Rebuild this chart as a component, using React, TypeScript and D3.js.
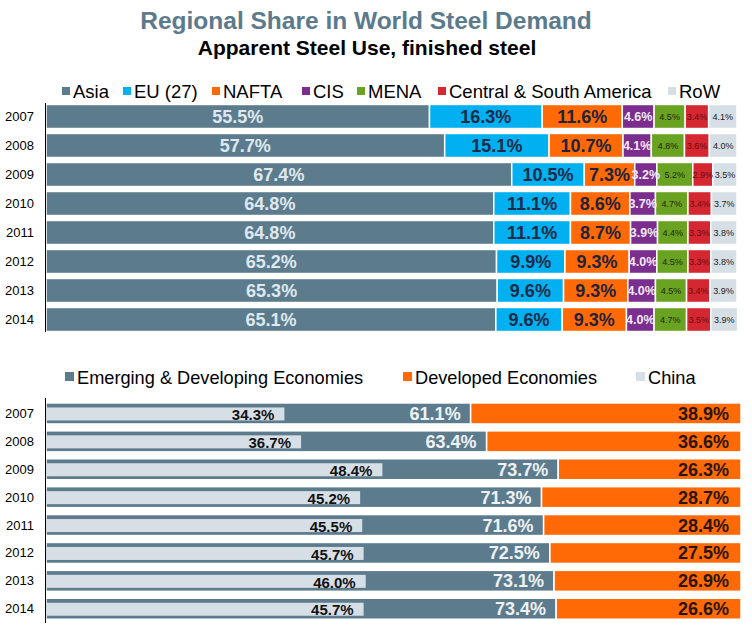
import React from "react";
import * as d3 from "d3";

const years = ["2007", "2008", "2009", "2010", "2011", "2012", "2013", "2014"];

const regions = ["Asia", "EU (27)", "NAFTA", "CIS", "MENA", "Central & South America", "RoW"];
const asia = [55.5, 57.7, 67.4, 64.8, 64.8, 65.2, 65.3, 65.1];
const eu = [16.3, 15.1, 10.5, 11.1, 11.1, 9.9, 9.6, 9.6];
const nafta = [11.6, 10.7, 7.3, 8.6, 8.7, 9.3, 9.3, 9.3];
const cis = [4.6, 4.1, 3.2, 3.7, 3.9, 4.0, 4.0, 4.0];
const mena = [4.5, 4.8, 5.2, 4.7, 4.4, 4.5, 4.5, 4.7];
const csa = [3.4, 3.6, 2.9, 3.4, 3.3, 3.3, 3.4, 3.5];
const row = [4.1, 4.0, 3.5, 3.7, 3.8, 3.8, 3.9, 3.9];

const economies = ["Emerging & Developing Economies", "Developed Economies", "China"];
const emerging = [61.1, 63.4, 73.7, 71.3, 71.6, 72.5, 73.1, 73.4];
const developed = [38.9, 36.6, 26.3, 28.7, 28.4, 27.5, 26.9, 26.6];
const china = [34.3, 36.7, 48.4, 45.2, 45.5, 45.7, 46.0, 45.7];

const FONT = "'Liberation Sans', Arial, sans-serif";

const regionColors = ["#5c7c8e", "#00b0f0", "#ff6a06", "#7c2e8e", "#6aa221", "#d42731", "#d7dfe6"];
const regionLabelStyle = [
  { size: 18, weight: "bold", fill: "#dfe8ef" },
  { size: 18, weight: "bold", fill: "#1d2b47" },
  { size: 18, weight: "bold", fill: "#22233a" },
  { size: 12.5, weight: "bold", fill: "#f2eaf6" },
  { size: 9, weight: "normal", fill: "#1a260c" },
  { size: 9, weight: "normal", fill: "#6e0a0a" },
  { size: 9, weight: "normal", fill: "#1a1a1a" },
];
const regionSeries = [asia, eu, nafta, cis, mena, csa, row];

const econColors = ["#5c7c8e", "#ff6a06", "#d7dfe6"];

export default function App() {
  const W = 752;
  const H = 631;

  // top chart
  const xTop = d3.scaleLinear().domain([0, 100]).range([46, 737]);
  const yTop = d3.scaleBand<string>().domain(years).range([102, 334]).paddingInner(0.17).paddingOuter(0.085);

  // bottom chart
  const xBot = d3.scaleLinear().domain([0, 100]).range([46, 741]);
  const yBot = d3.scaleBand<string>().domain(years).range([399.5, 622.7]).paddingInner(0.247).paddingOuter(0.124);

  const stacked = years.map((y, i) => {
    let acc = 0;
    return regionSeries.map((s, k) => {
      const v = s[i];
      const seg = { k, x0: acc, x1: acc + v, v };
      acc += v;
      return seg;
    });
  });

  const topLegendX = [62, 123, 212, 302, 357, 438, 668];
  const botLegendX = [65, 403, 636];

  return (
    <svg width={W} height={H} style={{ display: "block", position: "absolute", left: 0, top: 0 }} fontFamily={FONT}>
      <rect x={0} y={0} width={W} height={H} fill="#ffffff" />
      <text x={366} y={29} textAnchor="middle" fontSize={24.5} fontWeight="bold" fill="#5b7a8c">
        Regional Share in World Steel Demand
      </text>
      <text x={367} y={55} textAnchor="middle" fontSize={21} fontWeight="bold" fill="#000">
        Apparent Steel Use, finished steel
      </text>

      {/* top legend */}
      {regions.map((r, k) => (
        <g key={r}>
          <rect x={topLegendX[k]} y={87} width={8} height={8} fill={regionColors[k]} />
          <text x={topLegendX[k] + 11} y={98} fontSize={18.5} fill="#000">{r}</text>
        </g>
      ))}

      {/* top bars */}
      {years.map((yr, i) => (
        <g key={yr}>
          <text x={34} y={(yTop(yr) as number) + yTop.bandwidth() / 2} dy="0.35em" textAnchor="end" fontSize={13} fill="#000">
            {yr}
          </text>
          {stacked[i].map((s) => (
            <rect
              key={s.k}
              x={xTop(s.x0)}
              y={yTop(yr)}
              width={xTop(s.x1) - xTop(s.x0)}
              height={yTop.bandwidth()}
              fill={regionColors[s.k]}
              stroke="#ffffff"
              strokeWidth={1.5}
            />
          ))}
          {stacked[i].map((s) => {
            const st = regionLabelStyle[s.k];
            return (
              <text
                key={"l" + s.k}
                x={(xTop(s.x0) + xTop(s.x1)) / 2}
                y={(yTop(yr) as number) + yTop.bandwidth() / 2}
                dy="0.36em"
                textAnchor="middle"
                fontSize={st.size}
                fontWeight={st.weight}
                fill={st.fill}
              >
                {s.v.toFixed(1)}%
              </text>
            );
          })}
        </g>
      ))}
      <line x1={45.5} x2={45.5} y1={103} y2={332} stroke="#000" strokeWidth={1} />

      {/* bottom legend */}
      {economies.map((e, k) => (
        <g key={e}>
          <rect x={botLegendX[k]} y={372} width={9} height={9} fill={econColors[k]} />
          <text x={botLegendX[k] + 12} y={384} fontSize={18.2} fill="#000">{e}</text>
        </g>
      ))}

      {/* bottom bars */}
      {years.map((yr, i) => {
        const y0 = yBot(yr) as number;
        const bw = yBot.bandwidth();
        const cy = y0 + bw / 2;
        return (
          <g key={"b" + yr}>
            <text x={34} y={cy} dy="0.35em" textAnchor="end" fontSize={13} fill="#000">{yr}</text>
            <rect x={xBot(0)} y={y0} width={xBot(emerging[i]) - xBot(0)} height={bw} fill={econColors[0]} stroke="#fff" strokeWidth={1.5} />
            <rect x={xBot(emerging[i])} y={y0} width={xBot(emerging[i] + developed[i]) - xBot(emerging[i])} height={bw} fill={econColors[1]} stroke="#fff" strokeWidth={1.5} />
            <rect x={xBot(0)} y={cy - 6} width={xBot(china[i]) - xBot(0)} height={13} fill={econColors[2]} />
            <text x={xBot(china[i]) - 10} y={cy + 1} dy="0.38em" textAnchor="end" fontSize={15} fontWeight="bold" fill="#111">
              {china[i].toFixed(1)}%
            </text>
            <text x={xBot(emerging[i]) - 10} y={cy} dy="0.36em" textAnchor="end" fontSize={18} fontWeight="bold" fill="#eef2f5">
              {emerging[i].toFixed(1)}%
            </text>
            <text x={xBot(100) - 12} y={cy} dy="0.36em" textAnchor="end" fontSize={18} fontWeight="bold" fill="#2a1508">
              {developed[i].toFixed(1)}%
            </text>
          </g>
        );
      })}
      <line x1={45.5} x2={45.5} y1={398} y2={623} stroke="#000" strokeWidth={1} />
    </svg>
  );
}
